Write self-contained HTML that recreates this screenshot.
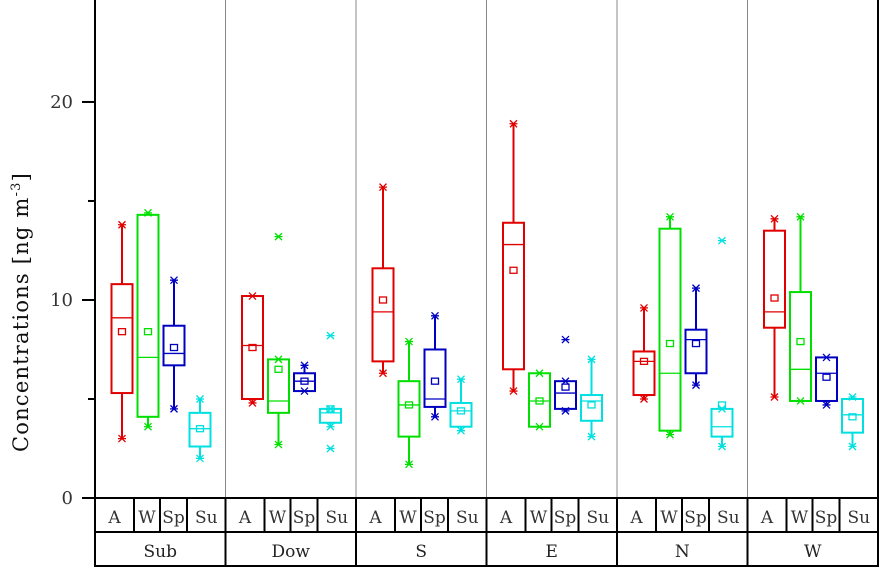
<!DOCTYPE html>
<html><head><meta charset="utf-8"><style>
body{margin:0;background:#fff}
svg{display:block;font-family:"DejaVu Serif","Liberation Serif",serif}
</style></head><body>
<svg id="c" width="880" height="568"></svg>
<script>
const groups=["Sub","Dow","S","E","N","W"];
const seasons=["A","W","Sp","Su"];
const colors=["#e00000","#00e000","#0000c0","#00e0e0"];
// [min, q1, median, q3, max, mean] per group per season
const statsSub=[[3.0,5.3,9.1,10.8,13.8,8.4],[3.6,4.1,7.1,14.3,14.4,8.4],[4.5,6.7,7.3,8.7,11.0,7.6],[2.0,2.6,3.5,4.3,5.0,3.5]];
const statsDow=[[4.8,5.0,7.7,10.2,10.2,7.6],[2.7,4.3,4.9,7.0,7.0,6.5],[5.4,5.4,5.9,6.3,6.7,5.9],[3.6,3.8,4.3,4.5,4.5,4.5]];
const statsS=[[6.3,6.9,9.4,11.6,15.7,10.0],[1.7,3.1,4.7,5.9,7.9,4.7],[4.1,4.6,5.0,7.5,9.2,5.9],[3.4,3.6,4.4,4.8,6.0,4.4]];
const statsE=[[5.4,6.5,12.8,13.9,18.9,11.5],[3.6,3.6,4.9,6.3,6.3,4.9],[4.4,4.5,5.3,5.9,5.9,5.6],[3.1,3.9,4.9,5.2,7.0,4.7]];
const statsN=[[5.0,5.2,6.9,7.4,9.6,6.9],[3.2,3.4,6.3,13.6,14.2,7.8],[5.7,6.3,8.0,8.5,10.6,7.8],[2.6,3.1,3.6,4.5,4.5,4.7]];
const statsW=[[5.1,8.6,9.4,13.5,14.1,10.1],[4.9,4.9,6.5,10.4,14.2,7.9],[4.7,4.9,6.3,7.1,7.1,6.1],[2.6,3.3,4.2,5.0,5.1,4.1]];
const outliers=[[1,1,13.2],[1,3,8.2],[1,3,2.5],[3,2,8.0],[4,3,13.0]]; // [group, season, value]
const yTicks=[0,10,20];
const yMinor=[5,15];
const statsAll=[statsSub,statsDow,statsS,statsE,statsN,statsW];

const svg=document.getElementById('c');
const NS="http://www.w3.org/2000/svg";
const L=95,R=878,T=0,B=498,yMax=25.15;
const gW=(R-L)/groups.length;
const y=v=>B-(v/yMax)*(B-T);
const gx=g=>L+g*gW;
const bx=(g,s)=>gx(g)+27+s*26;
function el(t,a,name,p){const e=document.createElementNS(NS,t);for(const k in a)e.setAttribute(k,a[k]);


(p||svg).appendChild(e);return e;}
function star(x,yy,c,name){el('path',{d:`M${x-3.5} ${yy-3.5}L${x+3.5} ${yy+3.5}M${x-3.5} ${yy+3.5}L${x+3.5} ${yy-3.5}M${x-4} ${yy}L${x+4} ${yy}`,stroke:c,'stroke-width':1.3,fill:'none'},name);}
for(let g=1;g<groups.length;g++) el('line',{x1:gx(g),x2:gx(g),y1:T,y2:B,stroke:'#888','stroke-width':1},'group-separator');
el('line',{x1:L,x2:L,y1:0,y2:567,stroke:'#000','stroke-width':2},'y-axis-line');
el('line',{x1:R,x2:R,y1:0,y2:567,stroke:'#000','stroke-width':2},'right-frame');
yTicks.forEach(v=>{el('line',{x1:82,x2:L,y1:y(v),y2:y(v),stroke:'#000','stroke-width':2},'y-tick');
const t=el('text',{x:73,y:y(v)+6,'text-anchor':'end','font-size':18,fill:'#333'},'y-tick-label');t.textContent=v;});
yMinor.forEach(v=>el('line',{x1:88,x2:L,y1:y(v),y2:y(v),stroke:'#000','stroke-width':2},'y-minor-tick'));
const tt=el('text',{transform:'translate(28,312) rotate(-90)','text-anchor':'middle','font-size':21,fill:'#111','letter-spacing':1.2},'y-axis-title');
tt.innerHTML='Concentrations [ng m<tspan dy="-8" font-size="13">-3</tspan><tspan dy="8">]</tspan>';
[498,532,566].forEach(yy=>el('line',{x1:L,x2:R,y1:yy,y2:yy,stroke:'#000','stroke-width':2},'table-line'));
const cellOff=[0,39,65,92];
groups.forEach((gn,g)=>{
 el('line',{x1:gx(g),x2:gx(g),y1:498,y2:567,stroke:'#000','stroke-width':2},'table-group-border');
 for(let s=1;s<4;s++) el('line',{x1:gx(g)+cellOff[s],x2:gx(g)+cellOff[s],y1:498,y2:532,stroke:'#000','stroke-width':2},'table-cell-border');
 seasons.forEach((sn,s)=>{const x0=gx(g)+cellOff[s],x1=s<3?gx(g)+cellOff[s+1]:gx(g+1);
  const t=el('text',{x:(x0+x1)/2,y:523,'text-anchor':'middle','font-size':17,fill:'#333'},'season-label');t.textContent=sn;});
 const t=el('text',{x:gx(g)+gW/2,y:557,'text-anchor':'middle','font-size':17,fill:'#222'},'group-label');t.textContent=gn;
});
statsAll.forEach((st,g)=>st.forEach((d,s)=>{
 const c=colors[s],x=bx(g,s),w=21;
 const [mn,q1,md,q3,mx,mean]=d;
 el('line',{x1:x,x2:x,y1:y(mx),y2:y(q3),stroke:c,'stroke-width':2},'whisker-upper');
 el('line',{x1:x,x2:x,y1:y(q1),y2:y(mn),stroke:c,'stroke-width':2},'whisker-lower');
 el('rect',{x:x-w/2,y:y(q3),width:w,height:y(q1)-y(q3),fill:'none',stroke:c,'stroke-width':2},'box-'+groups[g].toLowerCase()+'-'+seasons[s].toLowerCase());
 el('line',{x1:x-w/2,x2:x+w/2,y1:y(md),y2:y(md),stroke:c,'stroke-width':1.3},'median-line');
 el('rect',{x:x-3.5,y:y(mean)-3,width:7,height:6,fill:'none',stroke:c,'stroke-width':1.3},'mean-marker');
 star(x,y(mx),c,'max-marker');star(x,y(mn),c,'min-marker');
}));
outliers.forEach(o=>star(bx(o[0],o[1]),y(o[2]),colors[o[1]],'outlier-marker'));
</script>
</body></html>
